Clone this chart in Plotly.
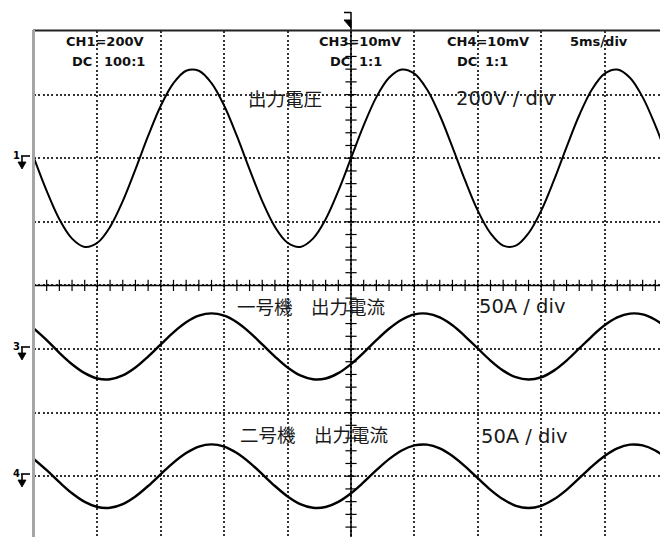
import numpy as np
import plotly.graph_objects as go

# ---------------- data ----------------
t_ms = list(range(0, 51))  # time, ms (5 ms/div)

ch1_volt = [0, -103, -192, -253, -279, -266, -216, -135, -35, 70,
            165, 236, 275, 275, 236, 165, 70, -35, -135, -216,
            -266, -279, -253, -192, -103, 0, 103, 192, 253, 279,
            266, 216, 135, 35, -70, -165, -236, -275, -275, -236,
            -165, -70, 35, 135, 216, 266, 279, 253, 192, 103, 0]

ch3_amp = [16, 7, -3, -12, -19, -23.2, -23.8, -20.8, -14.6, -6,
           3.6, 13.1, 21, 26.2, 28, 26.2, 21, 13.1, 3.6, -6,
           -14.6, -20.8, -23.8, -23.2, -19, -11.9, -2.9, 6.9, 15.9, 23,
           27.2, 27.8, 24.8, 18.6, 10, 0.4, -9.1, -17, -22.2, -24,
           -22.2, -17, -9.1, 0.4, 10, 18.6, 24.8, 27.8, 27.2, 23, 15.9]

ch4_amp = [13.4, 4.7, -4.7, -13.4, -20.2, -24.2, -24.8, -21.9, -15.9, -7.7,
           1.6, 10.7, 18.2, 23.3, 25, 23.3, 18.2, 10.7, 1.6, -7.7,
           -15.9, -21.9, -24.8, -24.2, -20.2, -13.4, -4.7, 4.7, 13.4, 20.2,
           24.2, 24.8, 21.9, 15.9, 7.7, -1.6, -10.7, -18.2, -23.3, -25,
           -23.3, -18.2, -10.7, -1.6, 7.7, 15.9, 21.9, 24.8, 24.2, 20.2, 13.4]

ch1_scale, ch1_pos = 200.0, 2.0    # V/div, ground position (div)
ch3_scale, ch3_pos = 50.0, -1.0    # A/div
ch4_scale, ch4_pos = 50.0, -3.0    # A/div

# ---------------- geometry ----------------
W_FIG, H_FIG = 660, 537
L, T = 34, 31
PW, PH = W_FIG - L, H_FIG - T
DIV_X, DIV_Y = 63.4, 63.6
x_max = PW / DIV_X * 5.0
y_top = 4.0
y_bot = y_top - PH / DIV_Y


def px(x):
    return (x - L) / PW


def py(y):
    return 1 - (y - T) / PH


fig = go.Figure()

for vals, scale, pos, w in [(ch1_volt, ch1_scale, ch1_pos, 2.0),
                            (ch3_amp, ch3_scale, ch3_pos, 2.4),
                            (ch4_amp, ch4_scale, ch4_pos, 2.4)]:
    fig.add_trace(go.Scatter(
        x=t_ms, y=[pos + v / scale for v in vals], mode="lines",
        line=dict(color="#000000", width=w, shape="spline", smoothing=1.0),
        hoverinfo="skip", showlegend=False))

# center-axis tick marks (graticule)
hx = np.arange(0, 50.01, 1.0)
fig.add_trace(go.Scatter(x=hx, y=[0] * len(hx), mode="markers",
                         marker=dict(symbol="line-ns", size=8,
                                     line=dict(color="#000", width=1.2)),
                         hoverinfo="skip", showlegend=False, cliponaxis=False))
vy = np.arange(-4, 4.01, 0.2)
fig.add_trace(go.Scatter(x=[25] * len(vy), y=vy, mode="markers",
                         marker=dict(symbol="line-ew", size=8,
                                     line=dict(color="#000", width=1.2)),
                         hoverinfo="skip", showlegend=False, cliponaxis=True))

grid = dict(showgrid=True, gridcolor="#333333", gridwidth=1.6,
            griddash="2px,2.3px", zeroline=False, showline=False,
            showticklabels=False, ticks="", fixedrange=True)

fig.update_layout(
    width=W_FIG, height=H_FIG,
    margin=dict(l=L, r=0, t=T, b=0, pad=0),
    paper_bgcolor="white", plot_bgcolor="white",
    xaxis=dict(range=[0, x_max], tick0=0, dtick=5, **grid),
    yaxis=dict(range=[y_bot, y_top], tick0=0, dtick=1, **grid),
)

shapes = []
# center axes (solid)
shapes.append(dict(type="line", xref="x", yref="y", x0=0, x1=x_max, y0=0, y1=0,
                   line=dict(color="#000", width=1.5)))
shapes.append(dict(type="line", xref="paper", yref="paper", x0=px(351), x1=px(351),
                   y0=0, y1=py(12), line=dict(color="#000", width=1.5)))
# top border and left border
shapes.append(dict(type="line", xref="paper", yref="paper", x0=px(33), x1=1,
                   y0=py(30.5), y1=py(30.5), line=dict(color="#222", width=2)))
shapes.append(dict(type="line", xref="paper", yref="paper", x0=px(33.5), x1=px(33.5),
                   y0=0, y1=py(30), line=dict(color="#a6a6a6", width=3)))
# trigger marker
shapes.append(dict(type="line", xref="paper", yref="paper", x0=px(344), x1=px(351),
                   y0=py(12.5), y1=py(12.5), line=dict(color="#000", width=1.5)))
shapes.append(dict(type="path", xref="paper", yref="paper",
                   path=f"M {px(344)} {py(20)} L {px(351)} {py(20)} L {px(351)} {py(28)} Z",
                   fillcolor="#000", line=dict(color="#000", width=1)))

annotations = []
# ground markers
for label, g in [("1", 158), ("3", 349), ("4", 476)]:
    annotations.append(dict(text=f"<b>{label}</b>", xref="paper", yref="paper",
                            x=px(16), y=py(g - 3), xanchor="center", yanchor="middle",
                            showarrow=False, font=dict(family="DejaVu Sans", size=10, color="#000")))
    shapes.append(dict(type="line", xref="paper", yref="paper", x0=px(21), x1=px(30),
                       y0=py(g - 2), y1=py(g - 2), line=dict(color="#000", width=1.6)))
    shapes.append(dict(type="line", xref="paper", yref="paper", x0=px(22), x1=px(22),
                       y0=py(g - 2), y1=py(g + 6), line=dict(color="#000", width=1.6)))
    shapes.append(dict(type="path", xref="paper", yref="paper",
                       path=f"M {px(18)} {py(g + 4)} L {px(26)} {py(g + 4)} L {px(22)} {py(g + 11)} Z",
                       fillcolor="#000", line=dict(color="#000", width=0.8)))

hdr_font = dict(family="DejaVu Sans", size=13, color="#111")
for txt, x, y, anc in [("CH1=200V", 65, 41, "left"), ("DC", 71, 62, "left"), ("100:1", 146, 62, "right"),
                       ("CH3=10mV", 318, 41, "left"), ("DC", 329, 62, "left"), ("1:1", 383, 62, "right"),
                       ("CH4=10mV", 446, 41, "left"), ("DC", 456, 62, "left"), ("1:1", 509, 62, "right"),
                       ("5ms/div", 569, 41, "left")]:
    annotations.append(dict(text=f"<b>{txt}</b>", xref="paper", yref="paper", x=px(x), y=py(y),
                            xanchor=anc, yanchor="middle", showarrow=False, font=hdr_font,
                            borderpad=0))

jp_font = dict(family="Noto Sans CJK JP", size=18.5, color="#1a1a1a")
lat_font = dict(family="DejaVu Sans", size=19.5, color="#1a1a1a")
for txt, x, y, f in [("出力電圧", 247, 98, jp_font), ("200V / div", 455, 98, lat_font),
                     ("一号機　出力電流", 236, 306, jp_font), ("50A / div", 478, 306, lat_font),
                     ("二号機　出力電流", 239, 434, jp_font), ("50A / div", 480, 436, lat_font)]:
    annotations.append(dict(text=txt, xref="paper", yref="paper", x=px(x), y=py(y),
                            xanchor="left", yanchor="middle", showarrow=False, font=f,
                            borderpad=0))

fig.update_layout(shapes=shapes, annotations=annotations)
fig.write_html("out.html", config={"displayModeBar": False},
               post_script="document.body.style.margin='0';document.body.style.padding='0';")
